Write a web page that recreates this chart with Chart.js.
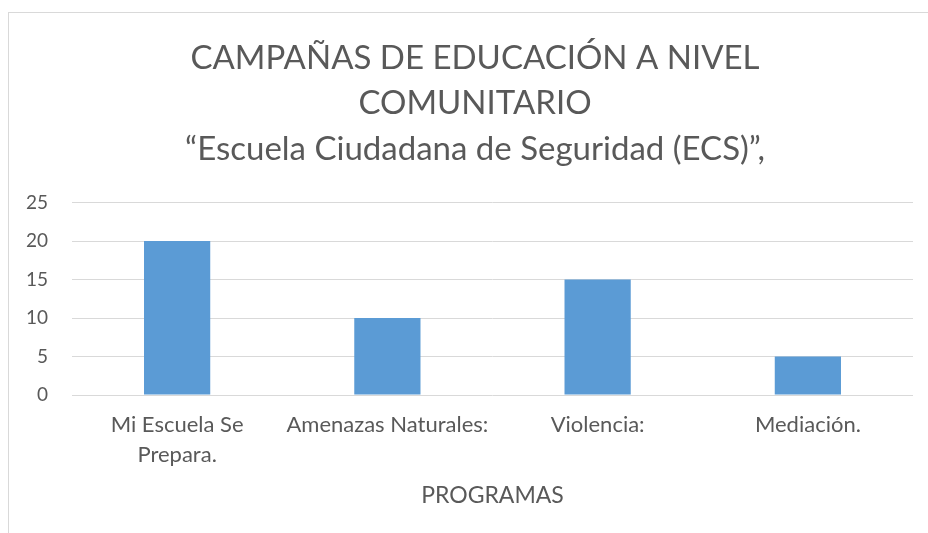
<!DOCTYPE html>
<html>
<head>
<meta charset="utf-8">
<script src="https://cdn.jsdelivr.net/npm/chart.js@4"></script>
<style>
  body { margin: 0; background: #fff; }
  #frame {
    position: absolute; left: 8px; top: 12px; width: 940px; height: 540px;
    border: 1px solid #d9d9d9;
  }
  #wrap { position: absolute; left: 0; top: 0; width: 928px; height: 533px; }
</style>
</head>
<body>
<div id="frame"></div>
<div id="wrap"><canvas id="myChart"></canvas></div>
<script>
const programas = [['Mi Escuela Se', 'Prepara.'], 'Amenazas Naturales:', 'Violencia:', 'Mediación.'];
const valores = [20, 10, 15, 5];
const titulo = ['CAMPAÑAS DE EDUCACIÓN A NIVEL', 'COMUNITARIO', '“Escuela Ciudadana de Seguridad (ECS)”,'];
const ejeX = 'PROGRAMAS';

const gris = '#595959';
const fuente = 'Lato, "Open Sans", sans-serif';

// the title block starts a bit right of the canvas edge, like the framed chart
const tituloDesplazado = {
  id: 'tituloDesplazado',
  afterLayout(c) {
    const t = c.titleBlock;
    t.left = 37;
    t.width = t.right - t.left;
  }
};

const chart = document.getElementById('myChart');

new Chart(chart, {
  type: 'bar',
  data: {
    labels: programas,
    datasets: [{
      data: valores,
      backgroundColor: '#5b9bd5',
      borderWidth: 0,
      barPercentage: 0.315,
      categoryPercentage: 1
    }]
  },
  options: {
    responsive: true,
    maintainAspectRatio: false,
    animation: false,
    layout: { padding: { left: 0, right: 15, top: 0, bottom: 0 } },
    plugins: {
      legend: { display: false },
      tooltip: { enabled: false },
      title: {
        display: true,
        text: titulo,
        color: gris,
        font: { family: fuente, size: 33, weight: 'normal', lineHeight: 1.39 },
        padding: { top: 35, bottom: 30 }
      }
    },
    scales: {
      x: {
        afterFit: (s) => { s.height = 138; },
        grid: { display: false, drawTicks: false },
        border: { display: false },
        ticks: {
          color: gris,
          maxRotation: 0,
          autoSkip: false,
          padding: 15,
          font: { family: fuente, size: 22, lineHeight: 1.36 }
        },
        title: {
          display: true,
          text: ejeX,
          color: gris,
          font: { family: fuente, size: 23, lineHeight: 1.2 },
          padding: { top: 0, bottom: 24 }
        }
      },
      y: {
        min: 0,
        max: 25,
        afterFit: (s) => { s.width = 72; },
        grid: { color: '#d9d9d9', lineWidth: 1, drawTicks: false },
        border: { display: false },
        ticks: {
          stepSize: 5,
          color: gris,
          padding: 24,
          font: { family: fuente, size: 19 }
        }
      }
    }
  },
  plugins: [tituloDesplazado]
});
</script>
</body>
</html>
